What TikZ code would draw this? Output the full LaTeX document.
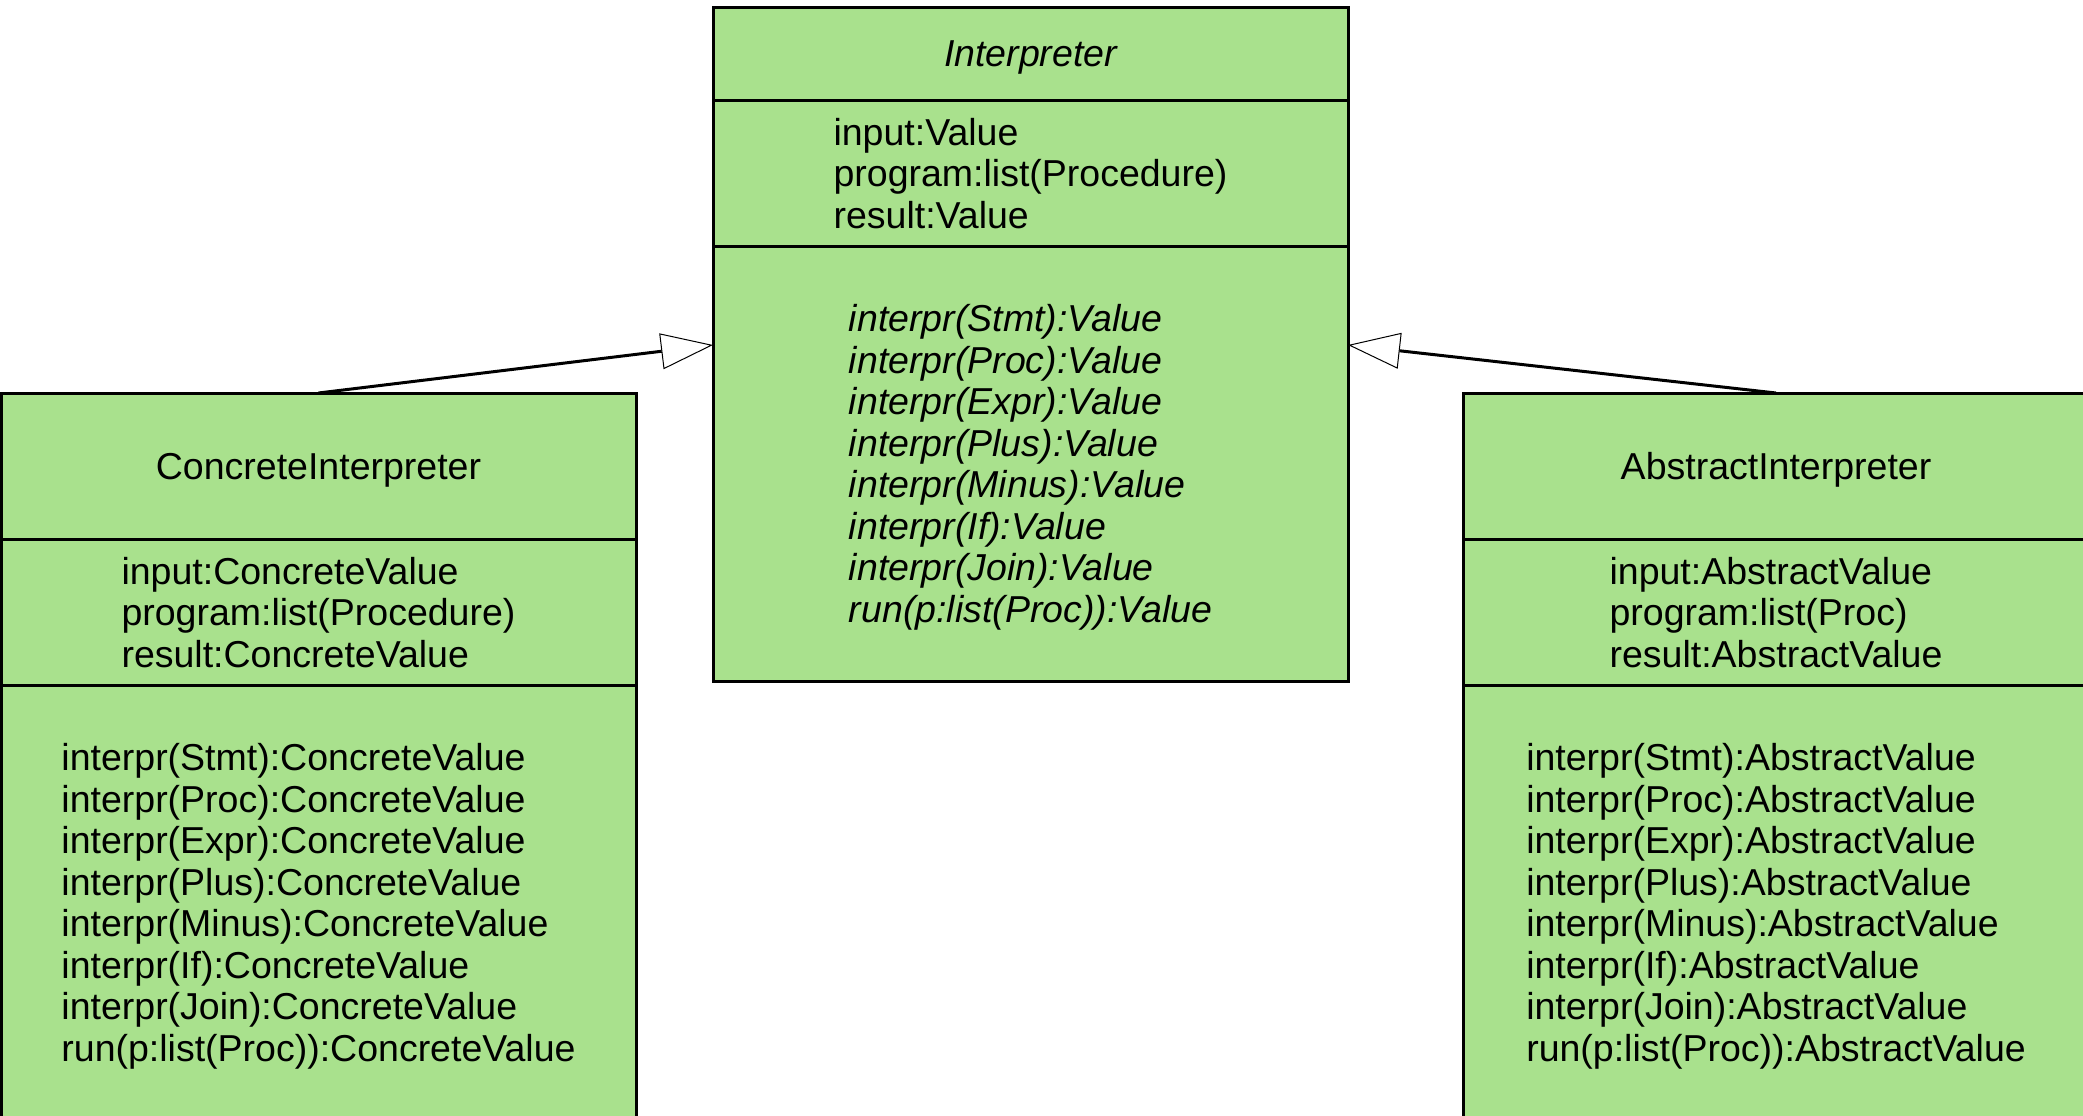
\documentclass[tikz,border=0pt]{standalone}
\usepackage{fontspec}
\setmainfont{Liberation Sans}
\usetikzlibrary{arrows.meta}
\definecolor{umlgreen}{RGB}{169,225,141}
\newcommand{\umlfont}{\fontsize{37.5}{41.5}\selectfont}

\begin{document}
\begin{tikzpicture}[x=1pt,y=-1pt,
    compart/.style={draw=black,fill=umlgreen,line width=3pt,inner sep=0pt,outer sep=0pt,
      anchor=north west,align=left,text depth=0pt,font=\umlfont},
    gen/.style={line width=3pt,-{Triangle[fill=white,length=52pt,width=36pt,line width=1pt]}}]
    \useasboundingbox (0,0) rectangle (2083,1116);
    \clip (0,0) rectangle (2083,1116);
    % Interpreter
    \node[compart,minimum width=635pt,minimum height=92pt] (it) at (713,8) {\itshape Interpreter};
    \node[compart,minimum width=635pt,minimum height=146pt] (ia) at (it.south west)
      {input:Value\\program:list(Procedure)\\result:Value};
    \node[compart,minimum width=635pt,minimum height=435pt,font=\umlfont\itshape] (im) at (ia.south west)
      {interpr(Stmt):Value\\interpr(Proc):Value\\interpr(Expr):Value\\interpr(Plus):Value\\
       interpr(Minus):Value\\interpr(If):Value\\interpr(Join):Value\\run(p:list(Proc)):Value};
    % ConcreteInterpreter
    \node[compart,minimum width=635pt,minimum height=146pt] (ct) at (1,393) {ConcreteInterpreter};
    \node[compart,minimum width=635pt,minimum height=146pt] (ca) at (ct.south west)
      {input:ConcreteValue\\program:list(Procedure)\\result:ConcreteValue};
    \node[compart,minimum width=635pt,minimum height=435pt] (cm) at (ca.south west)
      {interpr(Stmt):ConcreteValue\\interpr(Proc):ConcreteValue\\interpr(Expr):ConcreteValue\\
       interpr(Plus):ConcreteValue\\interpr(Minus):ConcreteValue\\interpr(If):ConcreteValue\\
       interpr(Join):ConcreteValue\\run(p:list(Proc)):ConcreteValue};
    % AbstractInterpreter
    \node[compart,minimum width=626pt,minimum height=146pt] (at) at (1463,393) {AbstractInterpreter};
    \node[compart,minimum width=626pt,minimum height=146pt] (aa) at (at.south west)
      {input:AbstractValue\\program:list(Proc)\\result:AbstractValue};
    \node[compart,minimum width=626pt,minimum height=435pt] (am) at (aa.south west)
      {interpr(Stmt):AbstractValue\\interpr(Proc):AbstractValue\\interpr(Expr):AbstractValue\\
       interpr(Plus):AbstractValue\\interpr(Minus):AbstractValue\\interpr(If):AbstractValue\\
       interpr(Join):AbstractValue\\run(p:list(Proc)):AbstractValue};
    % Generalisation
    \coordinate (lhook) at (713,345);
    \coordinate (rhook) at (1348,345);
    \draw[gen] (ct.north) -- (lhook);
    \draw[gen] (at.north) -- (rhook);
\end{tikzpicture}
\end{document}
